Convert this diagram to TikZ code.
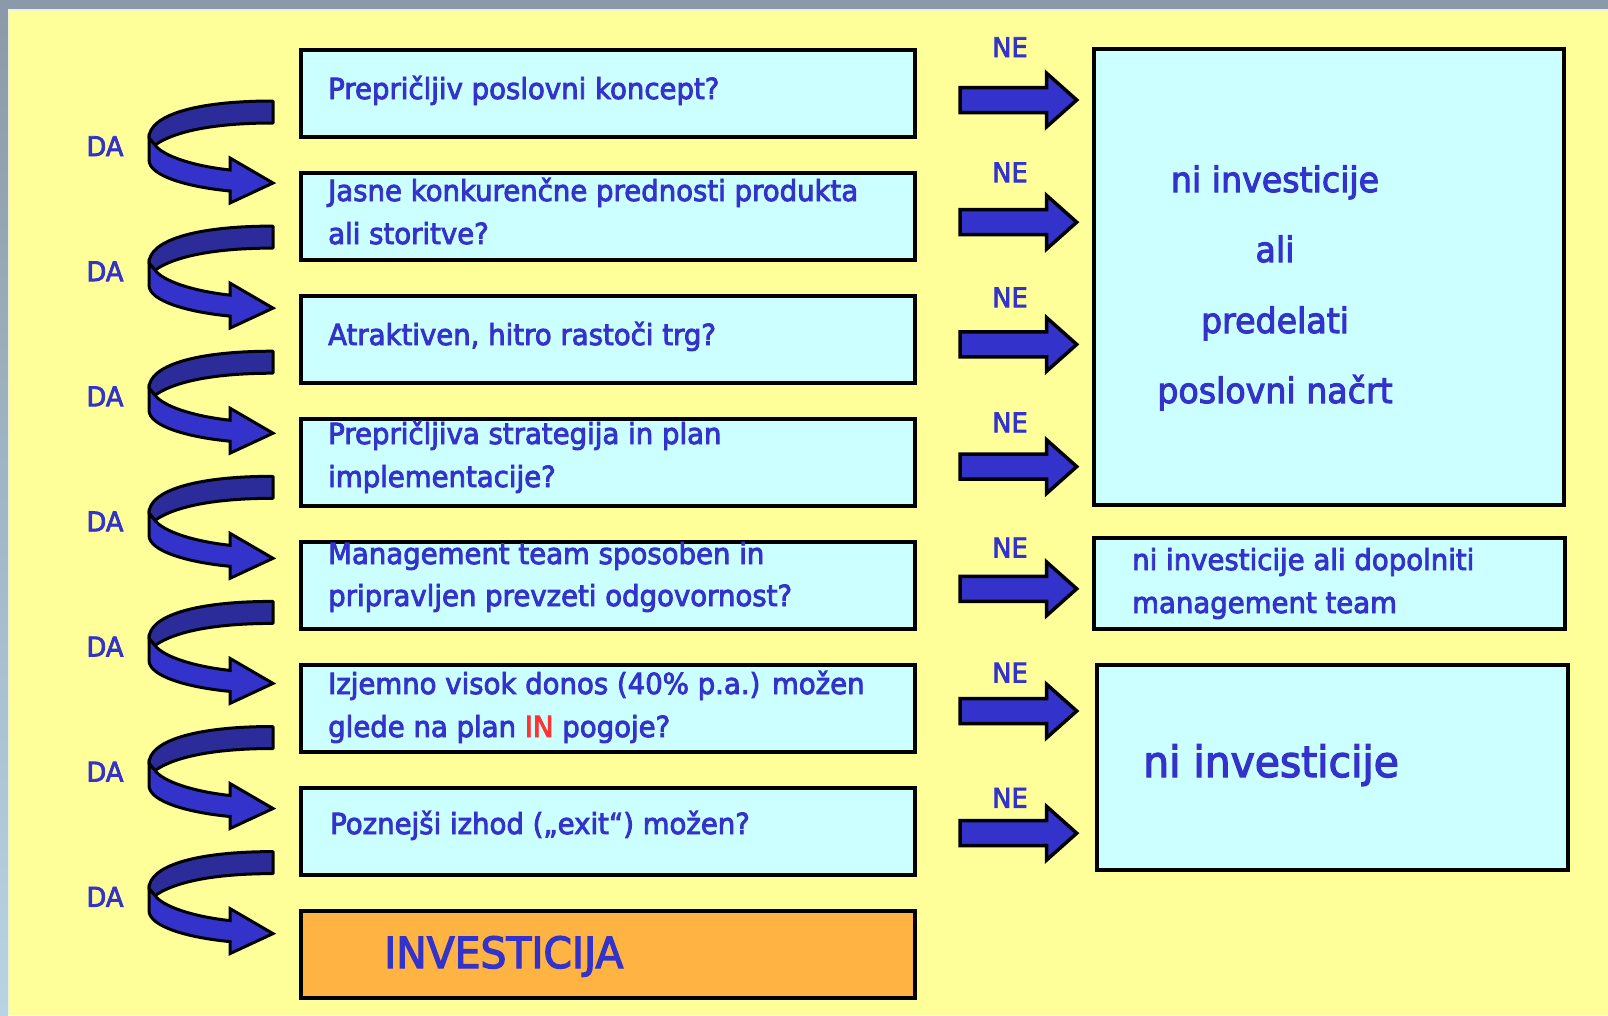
\documentclass[tikz,border=0pt]{standalone}
\usepackage{fontspec}
\setmainfont{DejaVu Sans}[FakeStretch=0.95,FakeBold=3]
\definecolor{bgyellow}{HTML}{FFFF99}
\definecolor{boxcyan}{HTML}{CCFFFF}
\definecolor{txtblue}{HTML}{3333CC}
\definecolor{bandback}{HTML}{2B2B99}
\definecolor{orangebox}{HTML}{FFB342}
\definecolor{redin}{HTML}{FF3333}
\definecolor{frametop}{HTML}{8A9AAA}
\definecolor{framebot}{HTML}{B8D4E4}
\definecolor{paleline}{HTML}{F2F2D0}
\begin{document}
\begin{tikzpicture}[x=1pt,y=-1pt,
  qbox/.style={draw=black, line width=3.5pt, fill=boxcyan, minimum width=614pt, minimum height=87pt, anchor=north west, inner sep=0pt},
  rbox/.style={draw=black, line width=3.5pt, fill=boxcyan, anchor=north west, inner sep=0pt},
  txt/.style={inner sep=0pt, text=txtblue, anchor=base west, font=\fontsize{29}{43}\selectfont},
  lbl/.style={inner sep=0pt, text=txtblue, anchor=base, font=\fontsize{27}{32}\selectfont},
  blockarrow/.style={fill=txtblue, draw=black, line width=3.5pt, line join=miter},
  bandfront/.style={fill=txtblue, draw=black, line width=3pt, line join=miter},
  bandrear/.style={fill=bandback, draw=black, line width=3pt, line join=round}]
\useasboundingbox (0,0) rectangle (1608,1015);
% background and frame
\fill[bgyellow] (0,0) rectangle (1608,1015);
\fill[frametop] (0,0) rectangle (1608,9);
\shade[top color=frametop, bottom color=framebot] (0,9) rectangle (8,1015);
\draw[paleline, line width=1.5pt] (8.75,1015) -- (8.75,9.75) -- (1608,9.75);

% question boxes
\foreach \i in {0,...,6}{
  \pgfmathsetmacro{\by}{48+123*\i}
  \node[qbox] (q\i) at (299,\by) {};
}
\node[qbox, fill=orangebox] (q7) at (299,909) {};

% right boxes
\node[rbox, minimum width=470pt, minimum height=456pt] (rb1) at (1092,47) {};
\node[rbox, minimum width=471pt, minimum height=91pt] (rb2) at (1092,536) {};
\node[rbox, minimum width=471pt, minimum height=205pt] (rb3) at (1095,663) {};

% question texts
\node[txt] (t0) at (328,99) {Prepričljiv poslovni koncept?};
\node[txt] (t1a) at (328,201) {Jasne konkurenčne prednosti produkta};
\node[txt] (t1b) at (328,244) {ali storitve?};
\node[txt] (t2) at (328,345) {Atraktiven, hitro rastoči trg?};
\node[txt] (t3a) at (328,444) {Prepričljiva strategija in plan};
\node[txt] (t3b) at (328,487) {implementacije?};
\node[txt] (t4a) at (328,564) {Management team sposoben in};
\node[txt] (t4b) at (328,606) {pripravljen prevzeti odgovornost?};
\node[txt] (t5a) at (328,694) {Izjemno visok donos (40\% p.a.) možen};
\node[txt] (t5b) at (328,737) {glede na plan \textcolor{redin}{IN} pogoje?};
\node[txt] (t6) at (330,834) {Poznejši izhod („exit“) možen?};
\node[txt, font=\fontsize{43}{50}\selectfont] (t7) at (384,968) {INVESTICIJA};

% right box texts
\begin{scope}[every node/.style={inner sep=0pt, text=txtblue, anchor=base, font=\fontsize{35}{40}\selectfont}]
\node (r1a) at (1275,192) {ni investicije};
\node (r1b) at (1275,262) {ali};
\node (r1c) at (1275,333) {predelati};
\node (r1d) at (1275,403) {poslovni načrt};
\end{scope}
\node[txt] (r2a) at (1132,570) {ni investicije ali dopolniti};
\node[txt] (r2b) at (1132,613) {management team};
\node[txt, font=\fontsize{43}{50}\selectfont] (r3) at (1143,777) {ni investicije};

% arrows and labels
\foreach \i in {0,...,6}{
  \pgfmathsetmacro{\cy}{100+122.2*\i}
  \begin{scope}[shift={(960,\cy)}]
    \filldraw[blockarrow] (0,-12.5) -- (86.7,-12.5) -- (86.7,-26.7) -- (116.7,0) -- (86.7,26.7) -- (86.7,12.5) -- (0,12.5) -- cycle;
  \end{scope}
  \pgfmathsetmacro{\ny}{57+125.1*\i}
  \node[lbl] (ne\i) at (1010,\ny) {NE};
  \pgfmathsetmacro{\ty}{101+125.1*\i}
  \begin{scope}[shift={(273,\ty)}]
    \filldraw[bandrear] (0,0) .. controls (-80,0) and (-124,15) .. (-124,37) -- (-118,44) .. controls (-95,28) and (-50,22) .. (0,22) -- cycle;
    \filldraw[bandfront] (-124,37) -- (-124,59) .. controls (-124,75) and (-85,86) .. (-43,90) -- (-43,102) -- (0,82) -- (-43,57) -- (-43,69) .. controls (-80,65) and (-110,55) .. (-118,44) -- cycle;
  \end{scope}
  \pgfmathsetmacro{\dy}{156+125.1*\i}
  \node[lbl] (da\i) at (105,\dy) {DA};
}
\end{tikzpicture}
\end{document}
